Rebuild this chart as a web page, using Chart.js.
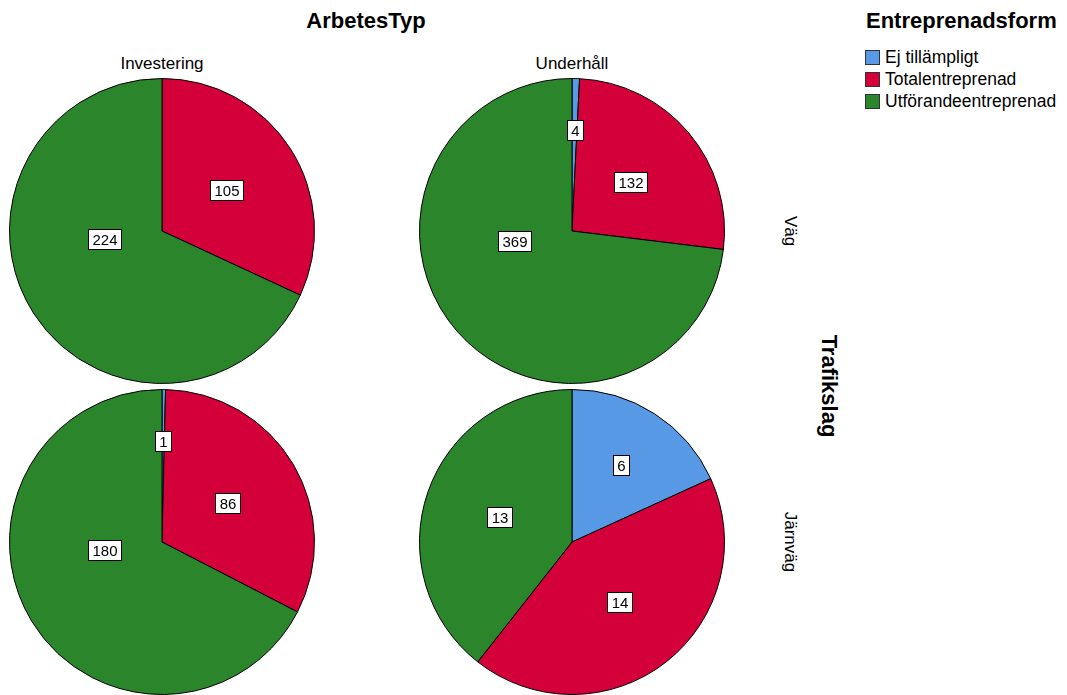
<!DOCTYPE html>
<html lang="sv">
<head>
<meta charset="utf-8">
<script src="https://cdn.jsdelivr.net/npm/chart.js@4/dist/chart.umd.min.js"></script>
<style>
  html, body { margin: 0; padding: 0; background: #fff; }
  body { width: 1067px; height: 695px; position: relative; overflow: hidden;
         font-family: "Liberation Sans", Arial, sans-serif; color: #000; }
  .txt { position: absolute; white-space: nowrap; line-height: 1; }
  .title { font-weight: bold; font-size: 22px; }
  .lbl { font-size: 17px; }
  .pie { position: absolute; width: 306px; height: 306px; }
  .rot { transform: translate(-50%, -50%) rotate(90deg); }
  .hc { transform: translate(-50%, -50%); }
  .legend-item { position: absolute; left: 865px; font-size: 17.5px; display: flex; align-items: center; }
  .sw { width: 15px; height: 15px; border: 1px solid #333; margin-right: 5px; box-sizing: border-box; }
</style>
</head>
<body>
<script>
// Kolumner, rader och kategorier
const arbetesTyp = ['Investering', 'Underhåll'];
const trafikslag = ['Väg', 'Järnväg'];
const entreprenadsform = ['Ej tillämpligt', 'Totalentreprenad', 'Utförandeentreprenad'];

// Antal per Entreprenadsform (Ej tillämpligt, Totalentreprenad, Utförandeentreprenad)
const vagInvestering = [0, 105, 224];
const vagUnderhall = [4, 132, 369];
const jarnvagInvestering = [1, 86, 180];
const jarnvagUnderhall = [6, 14, 13];

const colors = ['#5899e6', '#d3003a', '#2b862b'];

const cells = [
  { data: vagInvestering, col: 0, row: 0 },
  { data: vagUnderhall, col: 1, row: 0 },
  { data: jarnvagInvestering, col: 0, row: 1 },
  { data: jarnvagUnderhall, col: 1, row: 1 }
];

const colX = [162, 572];
const rowY = [231, 542];
const size = 306;

function addText(text, cls, x, y) {
  const d = document.createElement('div');
  d.className = 'txt ' + cls;
  d.textContent = text;
  d.style.left = x + 'px';
  d.style.top = y + 'px';
  document.body.appendChild(d);
  return d;
}

// Rubriker
addText('ArbetesTyp', 'title hc', 366, 21);
arbetesTyp.forEach((t, i) => addText(t, 'lbl hc', colX[i], 63));
trafikslag.forEach((t, i) => addText(t, 'lbl rot', 790, rowY[i]));
addText('Trafikslag', 'title rot', 829, 386);

// Teckenförklaring
addText('Entreprenadsform', 'title', 866, 10);
entreprenadsform.forEach((t, i) => {
  const it = document.createElement('div');
  it.className = 'legend-item';
  it.style.top = (47 + i * 22) + 'px';
  const sw = document.createElement('div');
  sw.className = 'sw';
  sw.style.background = colors[i];
  const tx = document.createElement('span');
  tx.textContent = t;
  it.appendChild(sw);
  it.appendChild(tx);
  document.body.appendChild(it);
});

// Värdeetiketter i rutor inne i varje sektor
const valueBoxes = {
  id: 'valueBoxes',
  afterDatasetsDraw(chart) {
    const ctx = chart.ctx;
    const meta = chart.getDatasetMeta(0);
    const values = chart.data.datasets[0].data;
    const total = values.reduce((a, b) => a + b, 0);
    ctx.save();
    ctx.font = '15px "Liberation Sans", Arial, sans-serif';
    ctx.textAlign = 'center';
    ctx.textBaseline = 'middle';
    meta.data.forEach((arc, i) => {
      const v = values[i];
      if (!v) return;
      const p = arc.getProps(['x', 'y', 'startAngle', 'endAngle', 'outerRadius'], true);
      const share = v / total;
      let ang = (p.startAngle + p.endAngle) / 2;
      let f = 0.5;
      if (share < 0.03) f = 0.66;
      else if (share < 0.25) f = 0.6;
      else if (share > 0.5) {
        // stora sektorer: etiketten dras mot vänstra sidan av cirkeln
        const left = Math.PI;
        let a = ang;
        while (a < 0) a += 2 * Math.PI;
        while (a > 2 * Math.PI) a -= 2 * Math.PI;
        ang = a + (left - a) * 0.75;
        f = 0.38;
      }
      const cx = p.x + Math.cos(ang) * p.outerRadius * f;
      const cy = p.y + Math.sin(ang) * p.outerRadius * f;
      const label = String(v);
      const w = Math.round(ctx.measureText(label).width) + 8;
      const h = 20;
      const bx = Math.round(cx - w / 2) + 0.5;
      const by = Math.round(cy - h / 2) + 0.5;
      ctx.fillStyle = '#fff';
      ctx.fillRect(bx, by, w, h);
      ctx.strokeStyle = '#000';
      ctx.lineWidth = 1;
      ctx.strokeRect(bx, by, w, h);
      ctx.fillStyle = '#000';
      ctx.fillText(label, bx + w / 2, by + h / 2 + 1);
    });
    ctx.restore();
  }
};

cells.forEach(c => {
  const holder = document.createElement('div');
  holder.className = 'pie';
  holder.style.left = (colX[c.col] - size / 2) + 'px';
  holder.style.top = (rowY[c.row] - size / 2) + 'px';
  const cv = document.createElement('canvas');
  cv.width = size;
  cv.height = size;
  holder.appendChild(cv);
  document.body.appendChild(holder);
  new Chart(cv, {
    type: 'pie',
    data: {
      labels: entreprenadsform,
      datasets: [{
        data: c.data,
        backgroundColor: colors,
        borderColor: '#000',
        borderWidth: 1
      }]
    },
    options: {
      responsive: false,
      animation: false,
      devicePixelRatio: 1,
      layout: { padding: 0 },
      plugins: { legend: { display: false }, tooltip: { enabled: false } }
    },
    plugins: [valueBoxes]
  });
});
</script>
</body>
</html>
